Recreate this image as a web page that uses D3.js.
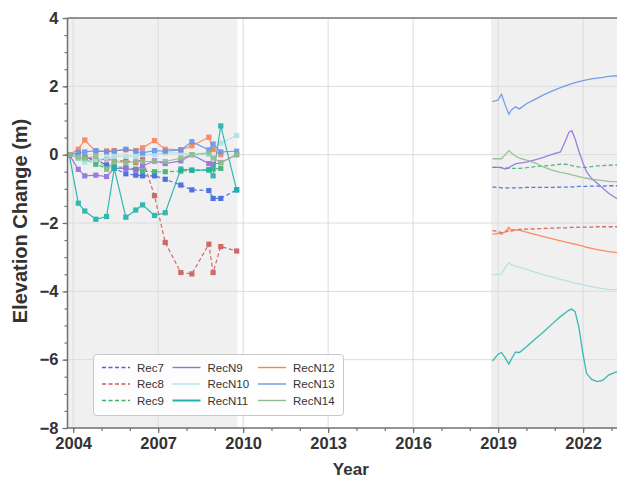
<!DOCTYPE html>
<html><head><meta charset="utf-8">
<script src="https://cdn.jsdelivr.net/npm/d3@7"></script>
<style>
body{margin:0;background:#fff}
svg{display:block;font-family:"Liberation Sans",Arial,Helvetica,sans-serif}
</style>
</head><body>
<svg id="c" width="617" height="479"></svg>
<script>
// ---------- DATA ----------
const seriesNames = ["Rec7","Rec8","Rec9","RecN9","RecN10","RecN11","RecN12","RecN13","RecN14"];
const xTickYears = [2004,2007,2010,2013,2016,2019,2022];
const yTickValues = [4,2,0,-2,-4,-6,-8];

// early survey epochs (with markers)
const years1 = [2003.86,2004.18,2004.41,2004.80,2005.18,2005.45,2005.86,2006.21,2006.45,2006.87,2007.25,2007.80,2008.19,2008.79,2008.94,2009.21,2009.77];
const rec7_1   = [0,-0.03,-0.08,-0.15,-0.30,-0.40,-0.56,-0.60,-0.62,-0.62,-0.72,-0.89,-1.03,-1.05,-1.28,-1.28,-1.03];
const rec8_1   = [0,-0.03,-0.08,-0.18,-0.12,-0.18,-0.18,-0.23,-0.13,-1.20,-2.57,-3.45,-3.49,-2.62,-3.45,-2.69,-2.82];
const rec9_1   = [0,-0.10,-0.13,-0.28,-0.40,-0.35,-0.38,-0.42,-0.48,-0.50,-0.50,-0.48,-0.46,-0.44,-0.42,-0.40,null];
const recN9_1  = [0,-0.43,-0.62,-0.60,-0.64,-0.40,-0.40,-0.45,-0.33,-0.18,-0.26,-0.18,0.00,-0.26,-0.28,-0.23,0.00];
const recN10_1 = [0,-0.10,-0.22,-0.15,-0.10,-0.05,-0.05,-0.05,0.00,0.00,0.05,0.05,0.00,0.00,0.20,0.34,0.56];
const recN11_1 = [0,-1.42,-1.65,-1.89,-1.81,-0.40,-1.83,-1.62,-1.47,-1.78,-1.70,-0.42,-0.45,-0.45,-0.62,0.84,-1.03];
const recN12_1 = [0,0.16,0.43,0.09,0.11,0.12,0.14,0.12,0.20,0.41,0.16,0.14,0.26,0.51,0.15,0.00,null];
const recN13_1 = [0,0.06,0.08,0.12,0.08,0.10,0.16,0.10,0.05,0.12,0.10,0.14,0.38,0.14,0.31,0.08,0.10];
const recN14_1 = [0,-0.07,-0.10,-0.05,-0.43,-0.20,-0.23,-0.20,-0.20,-0.20,-0.20,-0.10,0.00,0.05,-0.10,-0.23,0.00];

// recent continuous record (no markers)
const years2 = [2018.80,2019.00,2019.12,2019.25,2019.38,2019.47,2019.61,2019.75,2020.00,2020.30,2020.60,2020.90,2021.20,2021.40,2021.50,2021.60,2021.72,2021.85,2022.00,2022.12,2022.30,2022.50,2022.70,2022.90,2023.20];
const rec7_2   = [-0.95,-0.95,-0.97,-0.97,-0.97,-0.97,-0.97,-0.97,-0.96,-0.96,-0.96,-0.96,-0.95,-0.95,-0.95,-0.94,-0.94,-0.93,-0.93,-0.93,-0.92,-0.92,-0.92,-0.91,-0.91];
const rec8_2   = [-2.22,-2.25,-2.28,-2.27,-2.22,-2.20,-2.20,-2.19,-2.18,-2.17,-2.16,-2.15,-2.14,-2.14,-2.13,-2.13,-2.13,-2.12,-2.12,-2.12,-2.12,-2.11,-2.11,-2.11,-2.11];
const rec9_2   = [-0.37,-0.37,-0.38,-0.39,-0.40,-0.40,-0.40,-0.40,-0.38,-0.35,-0.33,-0.31,-0.28,-0.28,-0.30,-0.32,-0.34,-0.36,-0.37,-0.37,-0.35,-0.33,-0.32,-0.31,-0.30];
const recN9_2  = [-0.37,-0.37,-0.38,-0.42,-0.38,-0.33,-0.27,-0.25,-0.22,-0.15,-0.08,0.01,0.08,0.45,0.66,0.70,0.46,0.10,-0.25,-0.50,-0.70,-0.84,-0.98,-1.13,-1.29];
const recN10_2 = [-3.52,-3.50,-3.49,-3.30,-3.16,-3.22,-3.26,-3.29,-3.36,-3.44,-3.52,-3.58,-3.65,-3.69,-3.71,-3.73,-3.76,-3.78,-3.81,-3.83,-3.86,-3.89,-3.92,-3.94,-3.96];
const recN11_2 = [-6.04,-5.84,-5.79,-5.95,-6.13,-5.98,-5.78,-5.79,-5.62,-5.40,-5.19,-4.96,-4.74,-4.61,-4.55,-4.52,-4.60,-5.05,-5.85,-6.40,-6.58,-6.64,-6.60,-6.45,-6.35];
const recN12_2 = [-2.33,-2.30,-2.33,-2.25,-2.13,-2.25,-2.20,-2.21,-2.27,-2.33,-2.40,-2.46,-2.52,-2.56,-2.58,-2.60,-2.62,-2.65,-2.68,-2.71,-2.74,-2.78,-2.81,-2.84,-2.87];
const recN13_2 = [1.55,1.60,1.77,1.45,1.18,1.31,1.40,1.34,1.49,1.62,1.75,1.86,1.96,2.02,2.05,2.08,2.11,2.14,2.17,2.19,2.22,2.24,2.26,2.29,2.31];
const recN14_2 = [-0.12,-0.12,-0.12,0.00,0.12,0.05,-0.04,-0.10,-0.16,-0.24,-0.36,-0.45,-0.52,-0.55,-0.57,-0.59,-0.61,-0.64,-0.67,-0.69,-0.72,-0.74,-0.76,-0.78,-0.79];

const early = {Rec7:rec7_1,Rec8:rec8_1,Rec9:rec9_1,RecN9:recN9_1,RecN10:recN10_1,RecN11:recN11_1,RecN12:recN12_1,RecN13:recN13_1,RecN14:recN14_1};
const late  = {Rec7:rec7_2,Rec8:rec8_2,Rec9:rec9_2,RecN9:recN9_2,RecN10:recN10_2,RecN11:recN11_2,RecN12:recN12_2,RecN13:recN13_2,RecN14:recN14_2};

// ---------- STYLE ----------
const colors = {Rec7:"#4169e1",Rec8:"#cd5c5c",Rec9:"#3cb371",RecN9:"#9370db",RecN10:"#b0e0e6",RecN11:"#20b2aa",RecN12:"#ff7f50",RecN13:"#6495ed",RecN14:"#8fbc8f"};
const dashed = {Rec7:true,Rec8:true,Rec9:true};

const svg = d3.select("#c");
const L = 67.5, T = 18, B = 428;
const x = d3.scaleLinear().domain([2003.8, 2023.8]).range([L, L + 20*28.33]);
const y = d3.scaleLinear().domain([-8, 4]).range([B, T]);
const R = x.range()[1];

// shaded survey periods
const shade = [[2003.8, 2009.8],[2018.75, 2023.8]];
svg.append("g").selectAll("rect").data(shade).join("rect")
  .attr("x", d => x(d[0])).attr("y", T)
  .attr("width", d => x(d[1]) - x(d[0])).attr("height", B - T)
  .attr("fill", "#f0f0f0");

// grid
const grid = svg.append("g").attr("stroke", "#dcdcdc").attr("stroke-width", 1);
grid.selectAll("line.v").data(xTickYears).join("line").attr("class","v")
  .attr("x1", d => x(d)).attr("x2", d => x(d)).attr("y1", T).attr("y2", B);
grid.selectAll("line.h").data(yTickValues.filter(v => v > -8 && v < 4)).join("line").attr("class","h")
  .attr("x1", L).attr("x2", R).attr("y1", d => y(d)).attr("y2", d => y(d));

// clip
svg.append("defs").append("clipPath").attr("id","clip")
  .append("rect").attr("x", L).attr("y", T).attr("width", R - L).attr("height", B - T);
const plot = svg.append("g").attr("clip-path", "url(#clip)");

const line = d3.line().defined(d => d[1] != null).x(d => x(d[0])).y(d => y(d[1]));

seriesNames.forEach(name => {
  const c = colors[name];
  const e = years1.map((t, i) => [t, early[name][i]]);
  const l = years2.map((t, i) => [t, late[name][i]]);
  const g = plot.append("g").attr("opacity", 0.9);
  g.append("path").datum(e).attr("d", line).attr("fill","none").attr("stroke", c)
    .attr("stroke-width", 1.2).attr("stroke-dasharray", dashed[name] ? "4,2.5" : null);
  g.selectAll("rect").data(e.filter(d => d[1] != null)).join("rect")
    .attr("x", d => x(d[0]) - 2.6).attr("y", d => y(d[1]) - 2.6)
    .attr("width", 5.2).attr("height", 5.2).attr("fill", c);
  g.append("path").datum(l).attr("d", line).attr("fill","none").attr("stroke", c)
    .attr("stroke-width", 1.3).attr("stroke-dasharray", dashed[name] ? "4,2.5" : null);
});

// axes / spines
const spineCol = "#707070";
const ax = svg.append("g").attr("stroke", spineCol).attr("stroke-width", 1.5);
ax.append("line").attr("x1", L).attr("x2", L).attr("y1", T).attr("y2", B);
ax.append("line").attr("x1", L).attr("x2", R).attr("y1", B).attr("y2", B);
ax.append("line").attr("x1", L).attr("x2", R).attr("y1", T).attr("y2", T);

const xAxis = d3.axisBottom(x).tickValues(xTickYears).tickFormat(d3.format("d")).tickSizeOuter(0).tickSize(5).tickPadding(4);
const xMinor = d3.axisBottom(x).tickValues(d3.range(2004, 2024)).tickFormat("").tickSizeOuter(0).tickSize(3);
const yAxis = d3.axisLeft(y).tickValues(yTickValues).tickFormat(d => d < 0 ? "\u2212" + Math.abs(d) : d).tickSizeOuter(0).tickSize(5).tickPadding(4);
const yMinor = d3.axisLeft(y).tickValues(d3.range(-8, 4.01, 0.5)).tickFormat("").tickSizeOuter(0).tickSize(3);

function styleAxis(g){
  g.select(".domain").remove();
  g.selectAll(".tick line").attr("stroke", spineCol).attr("stroke-width", 1.2);
  g.selectAll(".tick text").attr("fill", "#333").attr("font-size", "16.5px").attr("font-weight", "bold")
    .attr("font-family", '"Liberation Sans",Arial,sans-serif');
}
svg.append("g").attr("transform", `translate(0,${B})`).call(xMinor).call(styleAxis);
svg.append("g").attr("transform", `translate(0,${B})`).call(xAxis).call(styleAxis);
svg.append("g").attr("transform", `translate(${L},0)`).call(yMinor).call(styleAxis);
svg.append("g").attr("transform", `translate(${L},0)`).call(yAxis).call(styleAxis);

// titles
svg.append("text").attr("x", (L + R) / 2).attr("y", 475).attr("text-anchor", "middle")
  .attr("font-size", "17px").attr("font-weight", "bold").attr("fill", "#333").text("Year");
svg.append("text").attr("transform", `translate(27,${(T + B) / 2 - 2}) rotate(-90)`).attr("text-anchor", "middle")
  .attr("font-size", "20px").attr("font-weight", "bold").attr("fill", "#333").text("Elevation Change (m)");

// legend
const lg = svg.append("g");
lg.append("rect").attr("x", 93.5).attr("y", 354.5).attr("width", 250).attr("height", 61).attr("rx", 3)
  .attr("fill", "#fff").attr("fill-opacity", 0.85).attr("stroke", "#c8c8c8").attr("stroke-width", 1);
const colX = [102, 172.5, 258];
seriesNames.forEach((name, i) => {
  const cx = colX[Math.floor(i / 3)], cy = 367.5 + (i % 3) * 16.5;
  lg.append("line").attr("x1", cx).attr("x2", cx + 28).attr("y1", cy).attr("y2", cy)
    .attr("stroke", colors[name]).attr("stroke-width", name === "RecN11" ? 2 : 1.4)
    .attr("stroke-dasharray", dashed[name] ? "4,2.5" : null);
  lg.append("text").attr("x", cx + 35).attr("y", cy).attr("dy", "0.36em")
    .attr("font-size", "11.5px").attr("fill", "#333").text(name);
});
</script>
</body></html>
